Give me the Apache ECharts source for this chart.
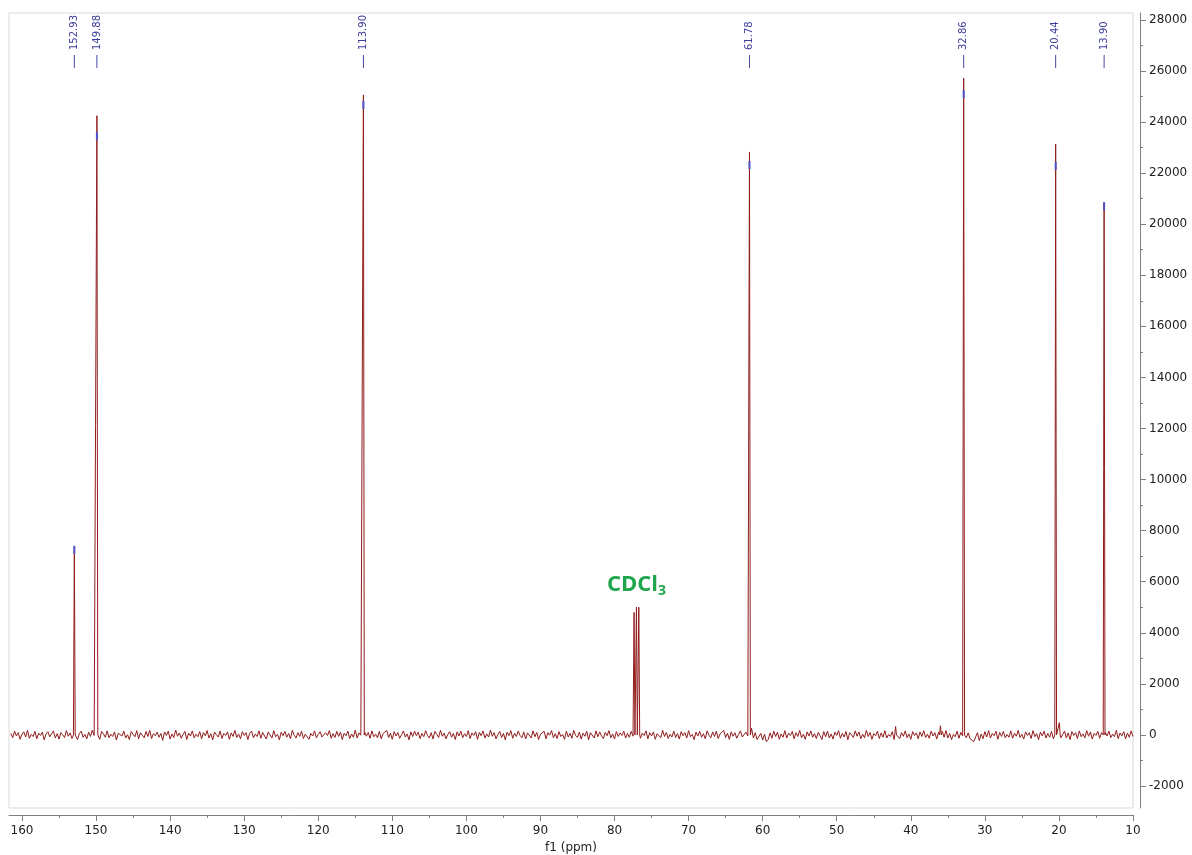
<!DOCTYPE html>
<html><head><meta charset="utf-8">
<script src="https://cdn.jsdelivr.net/npm/echarts@6/dist/echarts.min.js"></script>
<style>html,body{margin:0;padding:0;background:#fff}#c{width:1192px;height:855px}</style>
</head><body><div id="c"></div>
<script>
// ---- data ----
const baseStart = 161.5, baseStep = 0.25;   // baseline samples every 0.25 ppm, from 161.5 down to 10.0
const baseline = [
  60,-110,150,-40,90,-170,30,120,-80,180,-130,20,-60,140,-150,70,-20,110,-190,40,
  130,-70,-10,160,-120,50,-160,90,10,-100,170,-50,80,-140,120,-30,-180,60,150,-90,
  20,-150,110,-60,190,-20,-130,80,-170,140,40,-90,160,-110,30,-60,120,-200,70,100,
  -40,150,-120,10,-180,130,60,-70,170,-150,90,-10,-110,140,-60,180,-140,50,-30,110,
  -90,60,-210,120,-20,150,-160,40,-100,190,-50,80,-130,20,140,-180,70,-40,160,-110,
  30,-70,130,-150,90,-30,170,-120,50,-190,110,10,-80,150,-140,60,-20,120,-170,80,
  -60,180,-100,40,-150,130,-20,90,-180,70,150,-110,30,-60,160,-130,100,-40,-160,120,
  50,-120,170,-70,20,-190,110,-30,140,-90,60,-150,180,-10,-120,90,-60,150,-140,30,
  100,-170,60,-40,160,-110,20,130,-80,-150,90,-20,170,-130,50,-100,140,-60,110,-180,
  70,-30,150,-140,40,-90,190,-120,80,-10,-160,120,-50,100,-130,160,-70,30,-110,140,
  -150,50,-20,180,-100,70,-170,130,-40,90,-130,10,160,-80,40,-190,120,-60,150,-30,
  110,-140,60,-70,170,-20,-120,90,-160,140,30,-100,180,-50,70,-150,20,130,-90,60,
  -180,120,-40,150,-110,50,-60,170,-140,80,-20,130,-170,100,-30,160,-120,40,-80,190,
  -50,90,-150,20,140,-100,60,-190,110,-30,170,-130,70,-60,150,-20,-110,120,-160,80,
  40,-120,160,-70,100,-180,30,-40,140,-150,90,-10,170,-110,50,-140,130,-60,20,-170,
  150,-80,60,-130,180,-20,-100,110,-160,70,-50,140,-190,90,30,-120,160,-70,120,-40,
  -140,100,-30,170,-110,40,-160,130,-60,80,-20,150,-120,60,-90,140,-50,30,-80,110,
  -130,70,-20,160,-150,90,-40,120,-170,50,10,-110,180,-60,100,-140,30,-80,150,-100,
  60,-160,130,-30,90,-120,170,-70,20,-180,110,-40,140,-90,50,-150,160,-10,-110,120,
  -60,150,-140,40,-30,180,-100,70,-170,120,-50,90,-130,20,160,-80,-120,110,-40,250,
  260,-120,90,-180,-150,60,-200,30,-260,-180,80,-130,150,-60,110,-170,40,-90,170,-120,
  70,-20,140,-150,90,-60,180,-110,30,-170,120,-40,160,-90,50,-140,100,-30,-180,130,
  -70,150,-120,40,-160,110,-20,170,-130,60,-80,140,-190,90,10,-100,160,-50,120,-150,
  30,-110,180,-60,100,-170,50,-30,150,-140,80,-90,170,-120,20,-60,130,-180,120,60,
  -140,90,-50,160,-110,40,-170,130,-20,80,-150,120,-60,170,-100,30,-130,150,-40,90,
  -160,110,-30,140,-90,170,-120,60,-180,20,-70,150,-130,100,-40,160,-110,80,-150,-200,
  -260,-190,90,-220,40,-150,130,-80,170,-120,60,-30,150,-170,100,-60,140,-110,20,-90,
  160,-130,70,-50,180,-100,30,-160,120,-20,90,-140,170,-70,50,-180,110,-40,150,-120,
  60,-90,140,-150,100,-30,170,-110,-60,150,-120,80,-180,130,-20,90,-140,160,-70,40,
  -110,170,-50,120,-160,60,-20,140,-130,90,-190,110,-40,150,-100,30,-70,180,-140,80,
  -30,130,-150,70,-90,160,-60
];
const peakPpm    = [152.93, 149.88, 113.90, 77.36, 77.04, 76.72, 61.78, 42.05, 36.00, 32.86, 20.44, 19.95, 13.90];
const peakHeight = [7350,   24250,  25060,  4800,  5000,  5000,  22830, 330,   360,   25720, 23140, 480,   20850];

const labelPpm  = [152.93, 149.88, 113.90, 61.78, 32.86, 20.44, 13.90];
const labelText = ['152.93', '149.88', '113.90', '61.78', '32.86', '20.44', '13.90'];
const pickMark  = [7250, 23450, 24670, 22320, 25100, 22280, 20700];  // blue peak-pick marks

const solventPpm = 77.04, solventHeight = 5000, solventName = 'CDCl', solventSub = '3';

const xTicks = [10,20,30,40,50,60,70,80,90,100,110,120,130,140,150,160];
const xMinorTicks = [15,25,35,45,55,65,75,85,95,105,115,125,135,145,155];
const yTicks = [-2000,0,2000,4000,6000,8000,10000,12000,14000,16000,18000,20000,22000,24000,26000,28000];
const yMinorTicks = [-1000,1000,3000,5000,7000,9000,11000,13000,15000,17000,19000,21000,23000,25000,27000];

// ---- build spectrum points ----
const pts = [];
baseline.forEach((v, i) => {
  const p = +(baseStart - i * baseStep).toFixed(2);
  if (peakPpm.every(q => Math.abs(q - p) > 0.13)) pts.push([p, v]);
});
peakPpm.forEach((p, i) => { pts.push([p + 0.12, 0], [p, peakHeight[i]], [p - 0.12, 0]); });
pts.sort((a, b) => b[0] - a[0]);

const FONT = 'DejaVu Sans';
const axisCol = '#808080';
const xBase = {
  type: 'value', min: 10, max: 161.75, inverse: true, position: 'bottom', offset: 7,
  splitLine: { show: false }
};
const yBase = {
  type: 'value', min: -2860, max: 28270, position: 'right', offset: 7,
  splitLine: { show: false }
};

const chart = echarts.init(document.getElementById('c'), null, { renderer: 'canvas' });
chart.setOption({
  animation: false,
  backgroundColor: '#fff',
  grid: { left: 9, right: 59, top: 13, bottom: 47, show: true, borderColor: '#d9d9d9', borderWidth: 1,
          containLabel: false, outerBoundsMode: 'none' },
  xAxis: [
    Object.assign({}, xBase, {
      axisLine: { show: true, onZero: false, lineStyle: { color: axisCol } },
      axisTick: { show: true, customValues: xTicks, length: 6, lineStyle: { color: axisCol } },
      axisLabel: { customValues: xTicks, color: '#222', fontFamily: FONT, fontSize: 12, margin: 10 },
      name: 'f1 (ppm)', nameLocation: 'middle', nameGap: 26,
      nameTextStyle: { color: '#222', fontFamily: FONT, fontSize: 12 }
    }),
    Object.assign({}, xBase, {
      axisLine: { show: false, onZero: false },
      axisTick: { show: true, customValues: xMinorTicks, length: 3, lineStyle: { color: axisCol } },
      axisLabel: { show: false }
    })
  ],
  yAxis: [
    Object.assign({}, yBase, {
      axisLine: { show: true, onZero: false, lineStyle: { color: axisCol } },
      axisTick: { show: true, customValues: yTicks, length: 6, lineStyle: { color: axisCol } },
      axisLabel: { customValues: yTicks, color: '#222', fontFamily: FONT, fontSize: 12, margin: 9,
                   formatter: v => String(v) }
    }),
    Object.assign({}, yBase, {
      axisLine: { show: false, onZero: false },
      axisTick: { show: true, customValues: yMinorTicks, length: 3, lineStyle: { color: axisCol } },
      axisLabel: { show: false }
    })
  ],
  series: [
    {
      type: 'line', data: pts, xAxisIndex: 0, yAxisIndex: 0,
      showSymbol: false, symbol: 'none',
      lineStyle: { color: '#921c1c', width: 1 }, z: 2
    },
    {
      type: 'custom', xAxisIndex: 0, yAxisIndex: 0, z: 3, clip: false,
      data: labelPpm.map((p, i) => [p, pickMark[i]]),
      renderItem: (params, api) => {
        const c = api.coord([api.value(0), api.value(1)]);
        return { type: 'line', shape: { x1: c[0], y1: c[1] - 4, x2: c[0], y2: c[1] + 4 },
                 style: { stroke: '#5050c8', lineWidth: 2 } };
      }
    },
    {
      type: 'custom', xAxisIndex: 0, yAxisIndex: 0, z: 4, clip: false,
      data: labelPpm.map((p, i) => [p, i]),
      renderItem: (params, api) => {
        const x = api.coord([api.value(0), 0])[0];
        const top = params.coordSys.y;
        return { type: 'group', children: [
          { type: 'text', x: x, y: top + 37, rotation: Math.PI / 2,
            style: { text: labelText[api.value(1)], fill: '#3d3d9c', font: '10px "DejaVu Sans"',
                     align: 'left', verticalAlign: 'middle' } },
          { type: 'line', shape: { x1: x, y1: top + 42, x2: x, y2: top + 55 },
            style: { stroke: '#4646a6', lineWidth: 1 } }
        ] };
      }
    },
    {
      type: 'custom', xAxisIndex: 0, yAxisIndex: 0, z: 4, clip: false,
      data: [[solventPpm, solventHeight]],
      renderItem: (params, api) => {
        const c = api.coord([api.value(0), api.value(1)]);
        return { type: 'text', x: c[0], y: c[1] - 23,
          style: { text: '{a|' + solventName + '}{b|' + solventSub + '}', align: 'center', verticalAlign: 'middle',
            rich: {
              a: { fontFamily: 'Open Sans', fontWeight: 'bold', fontSize: 22, fill: '#1fa64c', color: '#1fa64c' },
              b: { fontFamily: 'Open Sans', fontWeight: 'bold', fontSize: 14, fill: '#1fa64c', color: '#1fa64c', padding: [14, 0, 0, 0] }
            } } };
      }
    }
  ]
});
</script>
</body></html>
